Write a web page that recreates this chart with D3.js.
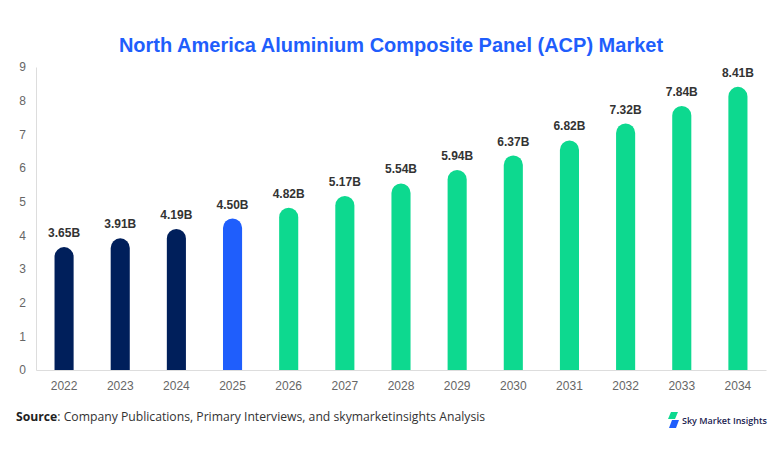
<!DOCTYPE html>
<html>
<head>
<meta charset="utf-8">
<script src="https://cdn.jsdelivr.net/npm/d3@7"></script>
<style>
  body { margin: 0; background: #fff; }
  svg { display: block; }
</style>
</head>
<body>
<div id="chart"></div>
<script>
// chart data
const years = ["2022", "2023", "2024", "2025", "2026", "2027", "2028", "2029", "2030", "2031", "2032", "2033", "2034"];
const values = [3.65, 3.91, 4.19, 4.50, 4.82, 5.17, 5.54, 5.94, 6.37, 6.82, 7.32, 7.84, 8.41];
const phases = ["hist", "hist", "hist", "base", "fc", "fc", "fc", "fc", "fc", "fc", "fc", "fc", "fc"];
const yTicks = [0, 1, 2, 3, 4, 5, 6, 7, 8, 9];

const width = 782, height = 454;
const margin = { top: 67, right: 16, bottom: 84, left: 36 };

const colors = { hist: "#001f5b", base: "#1f5efc", fc: "#0dd98f" };

const svg = d3.select("#chart")
  .append("svg")
  .attr("width", width)
  .attr("height", height);

// title
svg.append("text")
  .attr("x", width / 2)
  .attr("y", 52)
  .attr("text-anchor", "middle")
  .attr("font-family", "Arial, 'Liberation Sans', sans-serif")
  .attr("font-weight", "bold")
  .attr("font-size", "20px")
  .attr("fill", "#1f5efc")
  .text("North America Aluminium Composite Panel (ACP) Market");

let xScale = d3.scaleBand()
  .domain(years)
  .range([margin.left, width - margin.right])
  .paddingInner(0.66)
  .paddingOuter(0.33);

let yScale = d3.scaleLinear()
  .domain([0, 9])
  .range([height - margin.bottom, margin.top]);

// y axis
const yAxis = svg.append("g")
  .attr("transform", `translate(${margin.left},0)`)
  .call(d3.axisLeft(yScale).tickValues(yTicks).tickSize(0).tickPadding(10));
yAxis.select(".domain").attr("stroke", "#dddddd");
yAxis.selectAll("text")
  .attr("font-family", "Arial, 'Liberation Sans', sans-serif")
  .attr("font-size", "12px")
  .attr("fill", "#666");

// x axis
const xAxis = svg.append("g")
  .attr("transform", `translate(0,${height - margin.bottom})`)
  .call(d3.axisBottom(xScale).tickSize(0).tickPadding(11));
xAxis.select(".domain").attr("stroke", "#dddddd");
xAxis.selectAll("text")
  .attr("font-family", "Arial, 'Liberation Sans', sans-serif")
  .attr("font-size", "12px")
  .attr("fill", "#666");

// bars with round tops
const bw = xScale.bandwidth();
const r = bw / 2;
function barPath(d, i) {
  const x0 = xScale(years[i]);
  const y0 = yScale(0);
  const yt = yScale(d);
  return `M${x0},${y0} L${x0},${yt + r} A${r},${r} 0 0 1 ${x0 + bw},${yt + r} L${x0 + bw},${y0} Z`;
}

svg.selectAll("path.bar")
  .data(values)
  .enter()
  .append("path")
  .attr("class", "bar")
  .attr("d", barPath)
  .attr("fill", (d, i) => colors[phases[i]]);

// value labels
svg.selectAll("text.val")
  .data(values)
  .enter()
  .append("text")
  .attr("class", "val")
  .attr("x", (d, i) => xScale(years[i]) + bw / 2)
  .attr("y", d => yScale(d) - 10)
  .attr("text-anchor", "middle")
  .attr("font-family", "Arial, 'Liberation Sans', sans-serif")
  .attr("font-weight", "bold")
  .attr("font-size", "12px")
  .attr("fill", "#333")
  .text(d => d.toFixed(2) + "B");

// source
const src = svg.append("text")
  .attr("x", 16)
  .attr("y", 421)
  .attr("font-family", "'Open Sans', sans-serif")
  .attr("font-size", "12.2px")
  .attr("fill", "#333");
src.append("tspan").attr("font-weight", "bold").attr("fill", "#222").text("Source");
src.append("tspan").text(": Company Publications, Primary Interviews, and skymarketinsights Analysis");

// logo
const logo = svg.append("g").attr("transform", "translate(668,412)");
logo.append("path")
  .attr("d", "M3,0 L10,0 L7,7 L0,7 Z")
  .attr("fill", "#0dd98f");
logo.append("path")
  .attr("d", "M4,8 L11,8 L8,16 L1,16 Z")
  .attr("fill", "#1f5efc");
logo.append("text")
  .attr("x", 14)
  .attr("y", 12)
  .attr("font-family", "'Open Sans', sans-serif")
  .attr("font-weight", "600")
  .attr("font-size", "9px")
  .attr("fill", "#1a2350")
  .text("Sky Market Insights");
</script>
</body>
</html>
